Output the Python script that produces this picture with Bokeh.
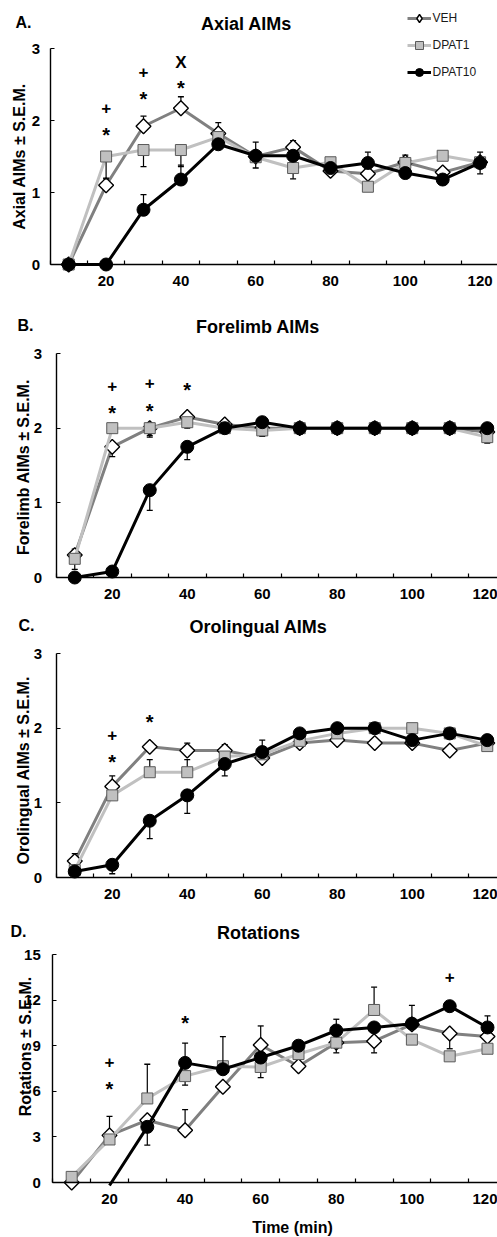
import numpy as np
from bokeh.plotting import figure
from bokeh.layouts import column
from bokeh.models import Range1d, FixedTicker, Label, Legend, LegendItem
from bokeh.core.properties import value
from bokeh.embed import file_html
from bokeh.resources import INLINE

nan = float("nan")

# ---------------- data ----------------
time_min = [10, 20, 30, 40, 50, 60, 70, 80, 90, 100, 110, 120]
x_tick_labels = [20, 40, 60, 80, 100, 120]
x_minor_ticks = [5, 15, 25, 35, 45, 55, 65, 75, 85, 95, 105, 115, 125]
series_names = ["VEH", "DPAT1", "DPAT10"]

# A. Axial AIMs (signed S.E.M.: + drawn upward, - drawn downward)
axial_veh = [0.0, 1.10, 1.92, 2.17, 1.82, 1.50, 1.63, 1.30, 1.26, 1.42, 1.28, 1.42]
axial_dpat1 = [0.0, 1.50, 1.59, 1.59, 1.77, 1.49, 1.34, 1.42, 1.08, 1.41, 1.51, 1.42]
axial_dpat10 = [0.0, 0.0, 0.76, 1.18, 1.67, 1.51, 1.51, 1.34, 1.41, 1.27, 1.18, 1.41]
axial_veh_err = [0, 0.10, 0.14, 0.16, 0.15, 0.20, 0.09, 0, 0, 0.10, 0, 0.14]
axial_dpat1_err = [0, -0.31, -0.23, -0.23, 0, -0.15, -0.15, 0, 0, 0, 0, -0.16]
axial_dpat10_err = [0, 0, 0.21, 0.20, 0, 0, 0, 0, 0.15, 0, 0, 0]
axial_sig_x = [20, 20, 30, 30, 40, 40]
axial_sig_y = [2.18, 1.86, 2.68, 2.36, 2.81, 2.51]
axial_sig = ["+", "*", "+", "*", "X", "*"]

# B. Forelimb AIMs
forelimb_veh = [0.30, 1.75, 2.00, 2.15, 2.05, 2.00, 2.00, 2.00, 2.00, 2.00, 2.00, 1.95]
forelimb_dpat1 = [0.25, 2.00, 2.00, 2.08, 2.00, 1.97, 2.00, 2.00, 2.00, 2.00, 2.00, 1.88]
forelimb_dpat10 = [0.0, 0.08, 1.17, 1.75, 2.00, 2.08, 2.00, 2.00, 2.00, 2.00, 2.00, 2.00]
forelimb_veh_err = [0.08, -0.13, -0.10, 0.05, 0.05, 0, 0.08, 0.08, 0.08, 0.08, 0.08, 0]
forelimb_dpat1_err = [-0.14, 0, -0.12, -0.08, 0, -0.08, 0, 0, 0, 0, 0, -0.08]
forelimb_dpat10_err = [0, 0, -0.27, -0.17, 0, 0, -0.08, -0.08, -0.08, -0.08, -0.08, 0]
forelimb_sig_x = [20, 20, 30, 30, 40]
forelimb_sig_y = [2.56, 2.26, 2.61, 2.29, 2.56]
forelimb_sig = ["+", "*", "+", "*", "*"]

# C. Orolingual AIMs
orolingual_veh = [0.22, 1.22, 1.75, 1.70, 1.70, 1.60, 1.80, 1.84, 1.80, 1.80, 1.70, 1.80]
orolingual_dpat1 = [0.10, 1.10, 1.41, 1.41, 1.62, 1.65, 1.83, 1.93, 2.00, 2.00, 1.93, 1.76]
orolingual_dpat10 = [0.08, 0.17, 0.76, 1.10, 1.52, 1.68, 1.93, 2.00, 2.00, 1.84, 1.93, 1.84]
orolingual_veh_err = [0.10, 0.14, 0.05, 0.10, 0.08, 0.24, 0, 0, 0, 0, 0, 0]
orolingual_dpat1_err = [0, 0.05, 0.17, 0.17, 0, 0, 0, 0, 0, 0, 0, 0]
orolingual_dpat10_err = [0, -0.12, -0.24, -0.24, -0.16, 0, 0, 0, 0, 0, 0, 0]
orolingual_sig_x = [20, 20, 30]
orolingual_sig_y = [1.91, 1.60, 2.13]
orolingual_sig = ["+", "*", "*"]

# D. Rotations
rotations_veh = [0.0, 3.10, 4.10, 3.44, 6.30, 9.05, 7.65, 9.20, 9.30, 10.40, 9.80, 9.60]
rotations_dpat1 = [0.37, 2.83, 5.53, 7.00, 7.65, 7.60, 8.45, 9.20, 11.35, 9.40, 8.30, 8.80]
rotations_dpat10 = [nan, -0.20, 3.66, 7.87, 7.45, 8.22, 9.00, 10.00, 10.20, 10.45, 11.60, 10.20]
rotations_veh_err = [0, 1.25, 0, 1.36, 0, 1.25, 0, 0, -0.77, 0, -1.0, 0]
rotations_dpat1_err = [0, 0, 2.25, -0.60, 0, -0.70, 0, -0.67, 1.50, 0, 0, 0]
rotations_dpat10_err = [0, 0, -1.20, 1.30, 2.15, 0, 0, 0.74, 0, 1.20, 0, 0.76]
rotations_sig_x = [20, 20, 40, 110]
rotations_sig_y = [7.93, 6.40, 10.74, 13.50]
rotations_sig = ["+", "*", "*", "+"]

# ---------------- styling ----------------
FONT = "Liberation Sans"
PAGE_W = 497
STYLE = {
    "VEH": dict(line_color="#808080", marker="square", angle=np.pi / 4, size=10.5,
                fill_color="white", mline="black", mlw=1.4, legend_marker="diamond"),
    "DPAT1": dict(line_color="#c0c0c0", marker="square", angle=0.0, size=11,
                  fill_color="#c0c0c0", mline="#5a5a5a", mlw=1.0, legend_marker="square"),
    "DPAT10": dict(line_color="black", marker="circle", angle=0.0, size=13,
                   fill_color="black", mline="black", mlw=1.0, legend_marker="circle"),
}


def page_label(p, g, text, px, py, size, align="center", angle=0.0, bold=True):
    # screen units are measured from the frame's bottom-left; the frame is the whole canvas
    p.add_layout(Label(x=px, y=(g["top"] + g["h"]) - py, x_units="screen", y_units="screen",
                       text=text, text_font=FONT, text_font_size=f"{size}px",
                       text_font_style="bold" if bold else "normal", text_align=align,
                       text_baseline="middle", angle=angle, text_color="black"))


def make_panel(g, letter, title, ylabel, ymax, yticks, data, errs, sig_x, sig_y, sig_t,
               legend=False, xlabel=None):
    top, h, left, zero, ppu, xppu = g["top"], g["h"], g["left"], g["zero"], g["ppu"], g["xppu"]
    p = figure(width=PAGE_W, height=h, output_backend="svg", toolbar_location=None,
               x_range=Range1d(5 - left / xppu, 5 + (PAGE_W - left) / xppu),
               y_range=Range1d((zero - (top + h)) / ppu, (zero - top) / ppu),
               min_border_left=0, min_border_right=0, min_border_top=0, min_border_bottom=0)
    p.title.visible = False
    p.grid.visible = False
    p.outline_line_color = None
    p.background_fill_color = "white"
    p.border_fill_color = "white"

    xa = p.xaxis[0]
    xa.fixed_location = 0
    xa.ticker = FixedTicker(ticks=x_tick_labels, minor_ticks=x_minor_ticks)
    xa.bounds = (5, 125)
    xa.major_tick_in = 0
    xa.major_tick_out = 0
    xa.minor_tick_in = 4
    xa.minor_tick_out = 0
    xa.minor_tick_line_width = 1.2
    xa.axis_line_width = 1.4
    xa.major_label_standoff = 11
    xa.major_label_text_font = FONT
    xa.major_label_text_font_style = "bold"
    xa.major_label_text_font_size = "15px"
    xa.major_label_text_color = "black"

    ya = p.yaxis[0]
    ya.fixed_location = 5
    ya.ticker = FixedTicker(ticks=yticks, minor_ticks=[])
    ya.bounds = (0, ymax)
    ya.major_tick_in = 4
    ya.major_tick_out = 0
    ya.major_tick_line_width = 1.2
    ya.minor_tick_in = 0
    ya.minor_tick_out = 0
    ya.axis_line_width = 1.4
    ya.major_label_standoff = g["ystand"]
    ya.major_label_text_font = FONT
    ya.major_label_text_font_style = "bold"
    ya.major_label_text_font_size = "15px"
    ya.major_label_text_color = "black"

    x = np.array(time_min, dtype=float)
    items = []
    for name, vals, err in zip(series_names, data, errs):
        st = STYLE[name]
        y = np.array(vals, dtype=float)
        e = np.array(err, dtype=float)
        lr = p.line(x, y, line_color=st["line_color"], line_width=3)
        m = (e != 0) & ~np.isnan(y)
        if m.any():
            p.segment(x[m], y[m], x[m], (y + e)[m], line_color="black", line_width=1.2)
            p.scatter(x[m], (y + e)[m], marker="dash", size=6, line_color="black", line_width=1.3)
        ym = np.where(y >= 0, y, nan)
        p.scatter(x, ym, marker=st["marker"], angle=st["angle"], size=st["size"],
                  fill_color=st["fill_color"], line_color=st["mline"], line_width=st["mlw"])
        if legend:
            # legend-only marker (not drawn in the plot: its one point is NaN)
            lm = p.scatter(x=[nan], y=[nan], marker=st["legend_marker"], size=8,
                           fill_color=st["fill_color"], line_color=st["mline"],
                           line_width=st["mlw"])
            items.append(LegendItem(label=name, renderers=[lr, lm]))

    sx = np.array(sig_x, dtype=float)
    sy = np.array(sig_y, dtype=float)
    st_arr = np.array(sig_t)
    star = st_arr == "*"
    p.text(sx[~star], sy[~star], text=list(st_arr[~star]), text_font=value(FONT),
           text_font_style="bold", text_font_size="17px", text_align="center",
           text_baseline="middle", text_color="black")
    p.text(sx[star], sy[star], text=list(st_arr[star]), text_font=value(FONT),
           text_font_style="bold", text_font_size="20px", text_align="center",
           text_baseline="middle", text_color="black", y_offset=4)

    page_label(p, g, letter, g["letter_x"], g["title_y"] - 1, 16, align="left")
    page_label(p, g, title, g["title_x"], g["title_y"], 18)
    page_label(p, g, ylabel, g["ylab_x"], g["ylab_y"], 16, angle=np.pi / 2)
    if xlabel:
        page_label(p, g, xlabel, 292, 1227, 16)

    if legend:
        leg_h = 3 * 20 + 2 * 7
        lg = Legend(items=items, location=(406.5, (top + h) - (8.3 + leg_h)),
                    glyph_width=24, glyph_height=20, label_height=20, label_standoff=2,
                    spacing=7, padding=0, margin=0, border_line_color=None,
                    background_fill_alpha=0, label_text_font=FONT,
                    label_text_font_size="12px", label_text_color="#1a1a1a")
        p.add_layout(lg)
    return p


gA = dict(top=0, h=300, left=49.5, zero=264, ppu=72.0, xppu=3.74, ystand=10,
          letter_x=15, title_x=246, title_y=23, ylab_x=18.5, ylab_y=156)
gB = dict(top=300, h=310, left=55.5, zero=577, ppu=224 / 3, xppu=3.75, ystand=14,
          letter_x=17, title_x=257.5, title_y=326, ylab_x=23, ylab_y=466.5)
gC = dict(top=610, h=295, left=55.5, zero=877, ppu=224 / 3, xppu=3.75, ystand=14,
          letter_x=18, title_x=258, title_y=626, ylab_x=23, ylab_y=767.5)
gD = dict(top=905, h=331, left=52.3, zero=1182, ppu=15.2, xppu=3.78, ystand=12,
          letter_x=10, title_x=258, title_y=932, ylab_x=24.5, ylab_y=1046)

pA = make_panel(gA, "A.", "Axial AIMs", "Axial AIMs \u00b1 S.E.M.", 3, [0, 1, 2, 3],
                [axial_veh, axial_dpat1, axial_dpat10],
                [axial_veh_err, axial_dpat1_err, axial_dpat10_err],
                axial_sig_x, axial_sig_y, axial_sig, legend=True)
pB = make_panel(gB, "B.", "Forelimb AIMs", "Forelimb AIMs \u00b1 S.E.M.", 3, [0, 1, 2, 3],
                [forelimb_veh, forelimb_dpat1, forelimb_dpat10],
                [forelimb_veh_err, forelimb_dpat1_err, forelimb_dpat10_err],
                forelimb_sig_x, forelimb_sig_y, forelimb_sig)
pC = make_panel(gC, "C.", "Orolingual AIMs", "Orolingual  AIMs \u00b1 S.E.M.", 3, [0, 1, 2, 3],
                [orolingual_veh, orolingual_dpat1, orolingual_dpat10],
                [orolingual_veh_err, orolingual_dpat1_err, orolingual_dpat10_err],
                orolingual_sig_x, orolingual_sig_y, orolingual_sig)
pD = make_panel(gD, "D.", "Rotations", "Rotations \u00b1 S.E.M.", 15, [0, 3, 6, 9, 12, 15],
                [rotations_veh, rotations_dpat1, rotations_dpat10],
                [rotations_veh_err, rotations_dpat1_err, rotations_dpat10_err],
                rotations_sig_x, rotations_sig_y, rotations_sig, xlabel="Time (min)")

layout = column(pA, pB, pC, pD, spacing=0)
open("out.html", "w").write(file_html(layout, INLINE))
